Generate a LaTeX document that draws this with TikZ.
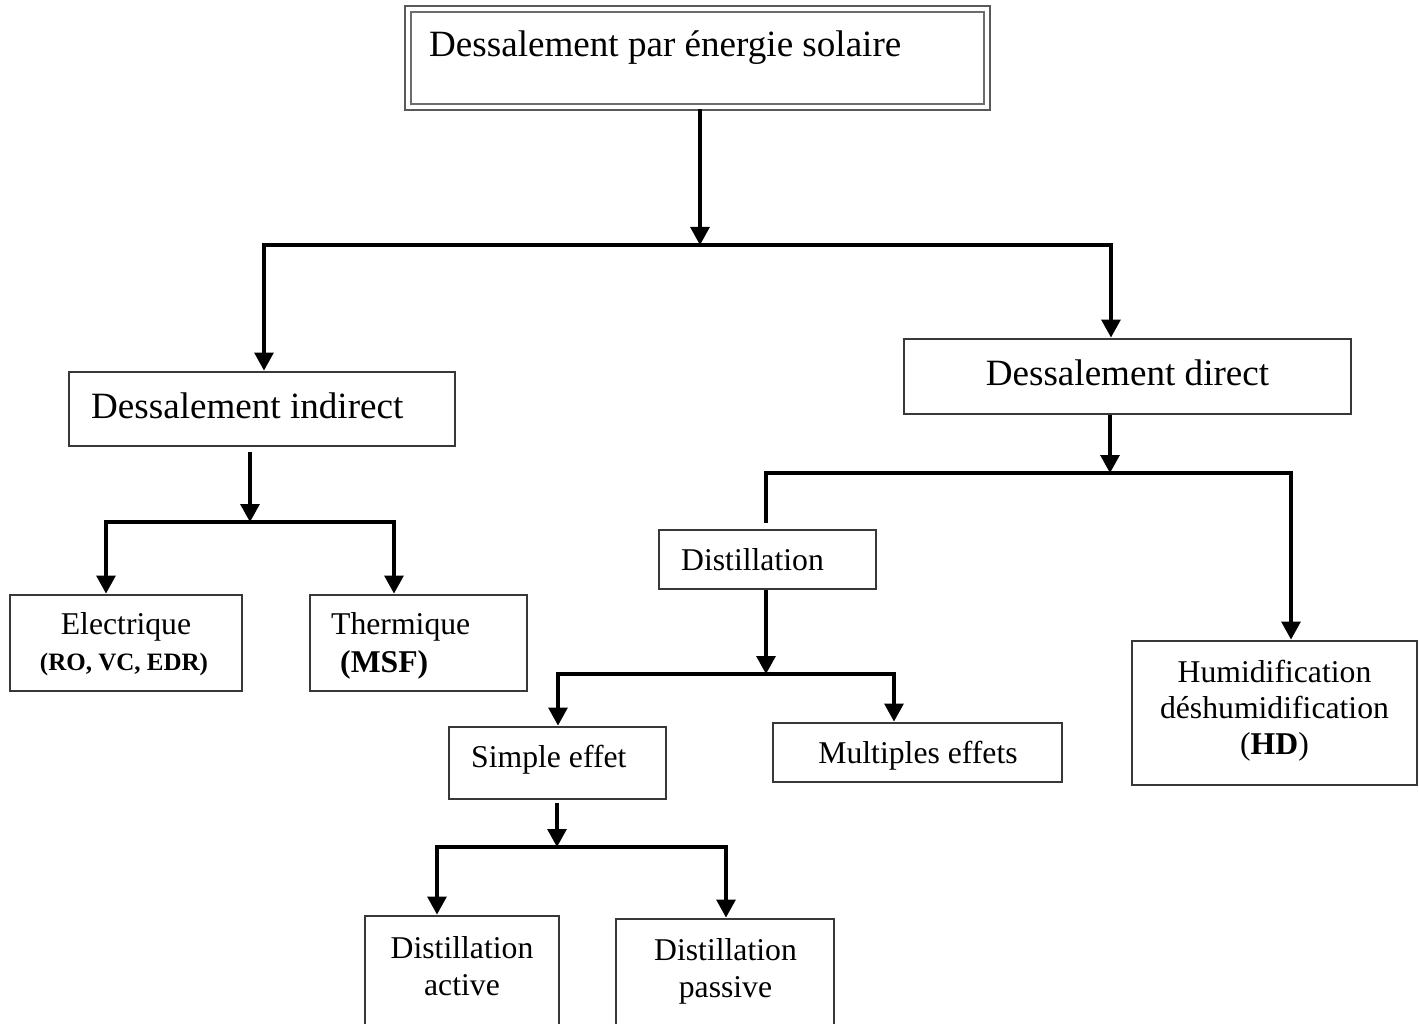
\documentclass[tikz,border=0pt]{standalone}
\usepackage{fontspec}
\setmainfont{Liberation Serif}
\usetikzlibrary{arrows.meta}
\begin{document}
\begin{tikzpicture}[x=1pt,y=-1pt,
  box/.style={draw=black!78, line width=2.9pt, rectangle, inner sep=0pt},
  conn/.style={line width=3.1pt, black},
  bus/.style={conn, line cap=rect},
  arr/.style={conn, -{Triangle[width=19pt,length=18pt]}},
  big/.style={inner sep=0pt, font=\fontsize{37.1}{44}\selectfont},
  small/.style={inner sep=0pt, font=\fontsize{31.7}{36.5}\selectfont},
  smallb/.style={inner sep=0pt, font=\fontsize{31.7}{36.5}\selectfont\bfseries},
  tinyb/.style={inner sep=0pt, font=\fontsize{25}{30}\selectfont\bfseries},
]
\useasboundingbox (0,0) rectangle (1419,1024);
\clip (0,0) rectangle (1419,1024);

% boxes
\node[draw=gray!85!black, line width=2.2pt, rectangle, inner sep=0pt,
      minimum width=573pt, minimum height=92pt] (top) at (697.5,58) {};
\draw[draw=black!65, line width=2.4pt]
  ([shift={(-5,-5)}]top.north west) rectangle ([shift={(5,5)}]top.south east);
\node[box, minimum width=386pt, minimum height=74pt] (indirect) at (262,409) {};
\node[box, minimum width=447pt, minimum height=75pt] (direct) at (1127.5,376.5) {};
\node[box, minimum width=232pt, minimum height=96pt] (elec) at (126,643) {};
\node[box, minimum width=217pt, minimum height=96pt] (therm) at (418.5,643) {};
\node[box, minimum width=217pt, minimum height=59pt] (dist) at (767.5,559.5) {};
\node[box, minimum width=285pt, minimum height=144pt] (hd) at (1274.5,713) {};
\node[box, minimum width=217pt, minimum height=72pt] (simple) at (557.5,763) {};
\node[box, minimum width=289pt, minimum height=59pt] (multi) at (917.5,752.5) {};
\node[box, minimum width=194pt, minimum height=124pt] (active) at (462,978) {};
\node[box, minimum width=218pt, minimum height=121pt] (passive) at (725,979.5) {};

% texts
\node[big, anchor=base west] (ttop) at (429,57) {Dessalement par énergie solaire};
\node[big, anchor=base west] (tind) at (91,418) {Dessalement indirect};
\node[big, anchor=base] (tdir) at (1127.5,385) {Dessalement direct};
\node[small, anchor=base] (telec1) at (126,634) {Electrique};
\node[tinyb, anchor=base] (telec2) at (124,670) {(RO, VC, EDR)};
\node[small, anchor=base west] (tth1) at (331,634) {Thermique};
\node[smallb, anchor=base west] (tth2) at (340,672) {(MSF)};
\node[small, anchor=base west] (tdist) at (681,570) {Distillation};
\node[small, anchor=base] (thd1) at (1274.5,682) {Humidification};
\node[small, anchor=base] (thd2) at (1274.5,718) {déshumidification};
\node[small, anchor=base] (thd3) at (1274.5,754) {(\textbf{HD})};
\node[small, anchor=base west] (tsimple) at (471,767) {Simple effet};
\node[small, anchor=base] (tmulti) at (918,763) {Multiples effets};
\node[small, anchor=base] (tact1) at (462,958) {Distillation};
\node[small, anchor=base] (tact2) at (462,995) {active};
\node[small, anchor=base] (tpas1) at (725.5,960) {Distillation};
\node[small, anchor=base] (tpas2) at (725.5,997) {passive};

% connectors level 1
\coordinate (j1) at (700,245);
\coordinate (bl1) at (264,245);
\coordinate (br1) at (1111,245);
\draw[arr, shorten <=4pt] (j1 |- top.south) -- (j1);
\draw[bus] (bl1) -- (br1);
\draw[arr] (bl1) -- (bl1 |- indirect.north);
\draw[arr] (br1) -- (br1 |- direct.north);

% indirect
\coordinate (j2) at (250,522);
\coordinate (bl2) at (106,522);
\coordinate (br2) at (394,522);
\draw[arr, shorten <=5pt] (j2 |- indirect.south) -- (j2);
\draw[bus] (bl2) -- (br2);
\draw[arr] (bl2) -- (bl2 |- elec.north);
\draw[arr] (br2) -- (br2 |- therm.north);

% direct
\coordinate (j3) at (1110,473);
\coordinate (bl3) at (766,473);
\coordinate (br3) at (1291,473);
\coordinate (e3) at (766,523);
\draw[arr] (j3 |- direct.south) -- (j3);
\draw[bus] (bl3) -- (br3);
\draw[conn] (bl3) -- (e3);
\draw[arr] (br3) -- (br3 |- hd.north);

% distillation
\coordinate (j4) at (766,674);
\coordinate (bl4) at (558,674);
\coordinate (br4) at (894,674);
\draw[arr] (j4 |- dist.south) -- (j4);
\draw[bus] (bl4) -- (br4);
\draw[arr] (bl4) -- (bl4 |- simple.north);
\draw[arr] (br4) -- (br4 |- multi.north);

% simple effet
\coordinate (j5) at (557,847);
\coordinate (bl5) at (437,847);
\coordinate (br5) at (726,847);
\draw[arr, shorten <=3pt] (j5 |- simple.south) -- (j5);
\draw[bus] (bl5) -- (br5);
\draw[arr] (bl5) -- (bl5 |- active.north);
\draw[arr] (br5) -- (br5 |- passive.north);
\end{tikzpicture}
\end{document}
